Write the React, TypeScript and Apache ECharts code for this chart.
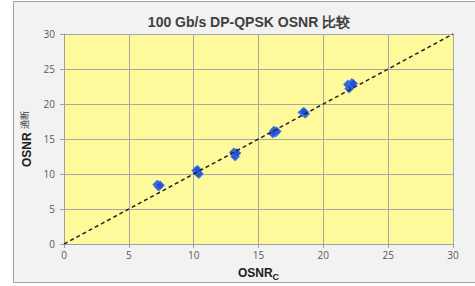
import React, { useEffect, useRef } from "react";
import * as echarts from "echarts";

const titleText = "100 Gb/s DP-QPSK OSNR 比较";
const xTicks = [0, 5, 10, 15, 20, 25, 30];
const yTicks = [0, 5, 10, 15, 20, 25, 30];
const osnrC = [7.2, 7.3, 7.4, 10.2, 10.3, 10.4, 10.3, 13.1, 13.2, 13.2, 13.3, 16.2, 16.3, 16.4, 16.1, 18.4, 18.6, 18.5, 21.9, 22.2, 22.0, 22.1, 22.3];
const osnrMeasured = [8.5, 8.2, 8.4, 10.5, 10.2, 10.0, 10.6, 13.1, 12.8, 12.5, 13.0, 16.2, 15.9, 16.1, 15.8, 18.8, 18.6, 18.9, 22.8, 23.0, 22.2, 22.5, 22.9];
const refLine = [[0, 0], [30, 30]];

export default function App() {
  const ref = useRef<HTMLDivElement>(null);
  useEffect(() => {
    if (!ref.current) return;
    const chart = echarts.init(ref.current, undefined, { renderer: "svg" });
    const pts = osnrC.map((x, i) => [x, osnrMeasured[i]]);
    const font = "'Liberation Sans', Arial, sans-serif";
    chart.setOption({
      animation: false,
      backgroundColor: "#ffffff",
      graphic: [
        {
          type: "rect",
          z: -10,
          shape: { x: 13.5, y: 1.5, width: 480, height: 281 },
          style: { fill: "#f2f2f2", stroke: "#a0a0a0", lineWidth: 1 },
          silent: true,
        },
      ],
      title: {
        text: titleText,
        left: 244,
        textAlign: "center",
        top: 10,
        textStyle: { fontFamily: font, fontSize: 14, fontWeight: "bold", color: "#404040" },
      },
      grid: { left: 64, top: 34, width: 389, height: 211.5, show: true, backgroundColor: "#fefa9c", borderWidth: 0 },
      xAxis: {
        type: "value",
        min: xTicks[0],
        max: xTicks[xTicks.length - 1],
        interval: 5,
        name: "{b|OSNR}{s|C}",
        nameLocation: "middle",
        nameGap: 20,
        nameTextStyle: {
          rich: {
            b: { fontFamily: font, fontSize: 12, fontWeight: "bold", color: "#202020" },
            s: { fontFamily: font, fontSize: 9, fontWeight: "bold", color: "#202020", padding: [8, 0, 0, 0] },
          },
        },
        axisLine: { show: true, lineStyle: { color: "#a0a0a0" } },
        axisTick: { show: true, length: 4, lineStyle: { color: "#a0a0a0" } },
        axisLabel: { fontFamily: "'Open Sans', sans-serif", fontSize: 10, color: "#595959", margin: 6 },
        splitLine: { show: true, lineStyle: { color: "#a8a8a8", width: 1 } },
      },
      yAxis: {
        type: "value",
        min: yTicks[0],
        max: yTicks[yTicks.length - 1],
        interval: 5,
        name: "{b|OSNR} {s|通断}",
        nameLocation: "middle",
        nameGap: 29,
        nameRotate: 90,
        nameTextStyle: {
          rich: {
            b: { fontFamily: font, fontSize: 12, fontWeight: "bold", color: "#202020" },
            s: { fontFamily: "'Noto Sans CJK SC', sans-serif", fontSize: 9, color: "#404040", padding: [0, 0, 4, 0] },
          },
        },
        axisLine: { show: true, lineStyle: { color: "#a0a0a0" } },
        axisTick: { show: true, length: 4, lineStyle: { color: "#a0a0a0" } },
        axisLabel: { fontFamily: "'Open Sans', sans-serif", fontSize: 10, color: "#595959", margin: 9 },
        splitLine: { show: true, lineStyle: { color: "#a8a8a8", width: 1 } },
      },
      series: [
        {
          type: "line",
          data: refLine,
          symbol: "none",
          lineStyle: { color: "#222222", width: 1.5, type: [4, 3] },
          z: 3,
          silent: true,
        },
        {
          type: "scatter",
          data: pts,
          symbol: "diamond",
          symbolSize: 9,
          itemStyle: { color: "#1f4fd6", borderColor: "#4d7fe6", borderWidth: 1, opacity: 0.9 },
          z: 2,
        },
      ],
    });
    return () => chart.dispose();
  }, []);
  return (
    <div
      ref={ref}
      style={{ position: "fixed", left: 0, top: 0, width: 475, height: 286 }}
    />
  );
}
